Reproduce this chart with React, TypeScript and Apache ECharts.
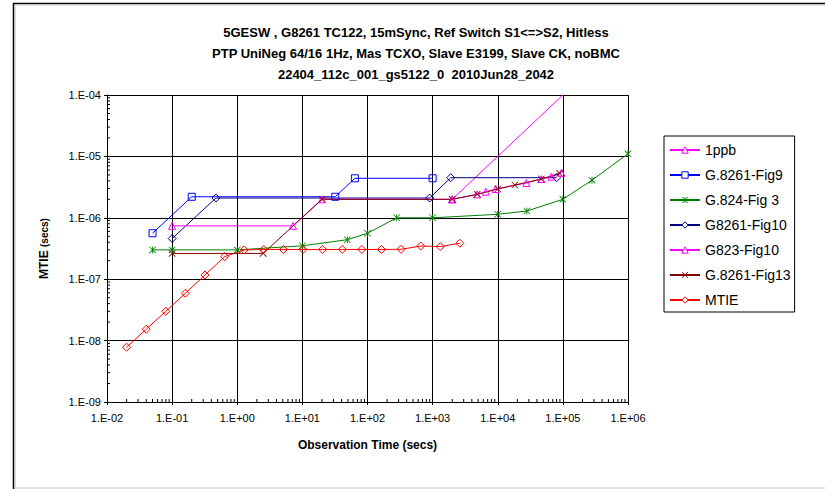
import React, { useEffect, useRef } from "react";
import * as echarts from "echarts";

// ---- data (observation time in s, MTIE in s) ----
const ppbX = [2000, 1000000];
const ppbY = [2e-6, 1e-3];

const fig9X = [0.05, 0.2, 32, 64, 1000];
const fig9Y = [5.6e-7, 2.2e-6, 2.2e-6, 4.4e-6, 4.4e-6];

const g824X = [0.05, 0.1, 1, 10, 49, 100, 280, 1000, 10000, 28000, 100000, 280000, 1000000];
const g824Y = [3e-7, 3e-7, 3e-7, 3.5e-7, 4.4e-7, 5.6e-7, 1e-6, 1e-6, 1.14e-6, 1.29e-6, 2e-6, 4.1e-6, 1.1e-5];

const fig10X = [0.1, 0.47, 900, 1900, 80000];
const fig10Y = [4.6e-7, 2.1e-6, 2.1e-6, 4.5e-6, 4.5e-6];

const g823X = [0.1, 7.2, 20, 2000, 4830, 6560, 9300, 27500, 46600, 66800, 95000];
const g823Y = [7.4e-7, 7.4e-7, 2e-6, 2e-6, 2.41e-6, 2.66e-6, 2.94e-6, 3.69e-6, 4.28e-6, 4.68e-6, 5.4e-6];

const fig13X = [0.1, 2.5, 20, 2000, 4830, 10000, 18300, 46600, 89000];
const fig13Y = [2.63e-7, 2.63e-7, 2e-6, 2e-6, 2.41e-6, 2.94e-6, 3.42e-6, 4.28e-6, 5.3e-6];

const mtieX = [0.02, 0.04, 0.08, 0.16, 0.32, 0.64, 1.28, 2.56, 5.12, 10.24, 20.48, 40.96, 81.92, 163.84, 327.68, 655.36, 1310.72, 2621.44];
const mtieY = [7.8e-9, 1.53e-8, 3.0e-8, 5.9e-8, 1.17e-7, 2.33e-7, 3.0e-7, 3.05e-7, 3.05e-7, 3.05e-7, 3.05e-7, 3.05e-7, 3.05e-7, 3.05e-7, 3.07e-7, 3.47e-7, 3.4e-7, 3.85e-7];

const seriesNames = ["1ppb", "G.8261-Fig9", "G.824-Fig 3", "G8261-Fig10", "G823-Fig10", "G.8261-Fig13", "MTIE"];
const seriesColors = ["#FF00FF", "#0000FF", "#008000", "#000080", "#FF00FF", "#800000", "#FF0000"];
const titleLines = [
  "5GESW , G8261 TC122, 15mSync, Ref Switch S1<=>S2, Hitless",
  "PTP UniNeg 64/16 1Hz, Mas TCXO, Slave E3199, Slave CK, noBMC",
  "22404_112c_001_gs5122_0  2010Jun28_2042",
];
const xMin = 0.01, xMax = 1e6, yMin = 1e-9, yMax = 1e-4;

const FONT = "Liberation Sans, Arial, sans-serif";
const STAR = "path://M4.4,0h1.2v10h-1.2z M0.8,0 L10,9.2 L9.2,10 L0,0.8z M9.2,0 L10,0.8 L0.8,10 L0,9.2z";
const XMARK = "path://M0.8,0 L10,9.2 L9.2,10 L0,0.8z M9.2,0 L10,0.8 L0.8,10 L0,9.2z";
const seriesSymbols = ["triangle", "rect", STAR, "diamond", "triangle", XMARK, "diamond"];
const hollow = [true, true, false, true, true, false, true];
const symbolSizes = [7, 7, 7, 8, 7, 7, 8];

const pairs = (xs: number[], ys: number[]) => xs.map((x, i) => [x, ys[i]]);
const fmt = (v: number) => {
  const e = Math.round(Math.log10(v));
  return "1.E" + (e < 0 ? "-" : "+") + String(Math.abs(e)).padStart(2, "0");
};

const markerStyle = (i: number, fill: string) =>
  hollow[i]
    ? { color: fill, borderColor: seriesColors[i], borderWidth: 1 }
    : { color: seriesColors[i], borderWidth: 0 };

function lineSeries(i: number, xs: number[], ys: number[]) {
  return {
    name: seriesNames[i],
    type: "line",
    data: pairs(xs, ys),
    symbol: seriesSymbols[i],
    symbolSize: symbolSizes[i],
    showAllSymbol: true,
    clip: true,
    lineStyle: { color: seriesColors[i], width: 1 },
    itemStyle: markerStyle(i, "rgba(255,255,255,0)"),
    emphasis: { disabled: true },
  };
}

export default function App() {
  const ref = useRef<HTMLDivElement>(null);
  useEffect(() => {
    if (!ref.current) return;
    const chart = echarts.init(ref.current, undefined, { renderer: "svg" });

    // log minor tick positions (2..9 per decade)
    const minor: number[][] = [];
    for (let e = -2; e < 6; e++) for (let k = 2; k <= 9; k++) minor.push([k * Math.pow(10, e), yMin, 0]);
    for (let e = -9; e < -4; e++) for (let k = 2; k <= 9; k++) minor.push([xMin, k * Math.pow(10, e), 1]);

    chart.setOption({
      animation: false,
      backgroundColor: "#fff",
      textStyle: { fontFamily: FONT },
      title: {
        text: titleLines.join("\n"),
        left: 411,
        textAlign: "center",
        top: 17,
        textStyle: { fontFamily: FONT, fontSize: 13, fontWeight: "bold", color: "#000", lineHeight: 21 },
      },
      grid: { left: 107, top: 95, width: 521, height: 307, containLabel: false },
      legend: {
        data: seriesNames.map((n, i) => ({
          name: n,
          itemStyle: markerStyle(i, "#fff"),
        })),
        orient: "vertical",
        left: 664,
        top: 136,
        padding: [7, 4, 5, 5],
        itemWidth: 30,
        itemHeight: 8,
        itemGap: 11,
        borderColor: "#000",
        borderWidth: 1,
        backgroundColor: "#fff",
        textStyle: { fontFamily: FONT, fontSize: 14, color: "#000", padding: [0, 0, 0, 0] },
        selectedMode: false,
      },
      xAxis: {
        type: "log",
        logBase: 10,
        min: xMin,
        max: xMax,
        name: "Observation Time (secs)",
        nameLocation: "middle",
        nameGap: 37,
        nameTextStyle: { fontFamily: FONT, fontSize: 12, fontWeight: "bold", color: "#000" },
        axisLine: { show: true, lineStyle: { color: "#000", width: 1 } },
        axisTick: { show: true, inside: false, length: 3, lineStyle: { color: "#000" } },
        axisLabel: { formatter: fmt, fontFamily: FONT, fontSize: 11, color: "#000", margin: 10 },
        splitLine: { show: true, lineStyle: { color: "#000", width: 1 } },
      },
      yAxis: {
        type: "log",
        logBase: 10,
        min: yMin,
        max: yMax,
        name: "{a|MTIE} {b|(secs)}",
        nameLocation: "middle",
        nameGap: 57,
        nameTextStyle: {
          rich: {
            a: { fontFamily: FONT, fontSize: 12, fontWeight: "bold", color: "#000" },
            b: { fontFamily: FONT, fontSize: 10, fontWeight: "bold", color: "#000" },
          },
        },
        axisLine: { show: true, lineStyle: { color: "#000", width: 1 } },
        axisTick: { show: true, inside: false, length: 3, lineStyle: { color: "#000" } },
        axisLabel: { formatter: fmt, fontFamily: FONT, fontSize: 11, color: "#000", margin: 6 },
        splitLine: { show: true, lineStyle: { color: "#000", width: 1 } },
      },
      series: [
        lineSeries(0, ppbX, ppbY),
        lineSeries(1, fig9X, fig9Y),
        lineSeries(2, g824X, g824Y),
        lineSeries(3, fig10X, fig10Y),
        lineSeries(4, g823X, g823Y),
        lineSeries(5, fig13X, fig13Y),
        lineSeries(6, mtieX, mtieY),
        {
          name: "minorTicks",
          type: "custom",
          data: minor,
          silent: true,
          z: 3,
          renderItem: (params: any, api: any) => {
            const p = api.coord([api.value(0), api.value(1)]);
            const isY = api.value(2) === 1;
            return {
              type: "line",
              shape: isY
                ? { x1: p[0], y1: p[1], x2: p[0] + 3, y2: p[1] }
                : { x1: p[0], y1: p[1], x2: p[0], y2: p[1] - 3 },
              style: { stroke: "#000", lineWidth: 1 },
            };
          },
        },
      ],
      graphic: [
        { type: "line", shape: { x1: 13, y1: 3.5, x2: 825, y2: 3.5 }, style: { stroke: "#000", lineWidth: 1.5 } },
        { type: "line", shape: { x1: 13.5, y1: 3, x2: 13.5, y2: 489 }, style: { stroke: "#000", lineWidth: 1.5 } },
        { type: "line", shape: { x1: 15, y1: 5, x2: 825, y2: 5 }, style: { stroke: "#c0c0c0", lineWidth: 1 } },
        { type: "line", shape: { x1: 15, y1: 5, x2: 15, y2: 489 }, style: { stroke: "#c0c0c0", lineWidth: 1 } },
        { type: "line", shape: { x1: 14, y1: 488, x2: 825, y2: 488 }, style: { stroke: "#c0c0c0", lineWidth: 1 } },
      ],
    });
    return () => chart.dispose();
  }, []);
  return <div ref={ref} style={{ position: "fixed", left: 0, top: 0, width: 825, height: 489 }} />;
}
